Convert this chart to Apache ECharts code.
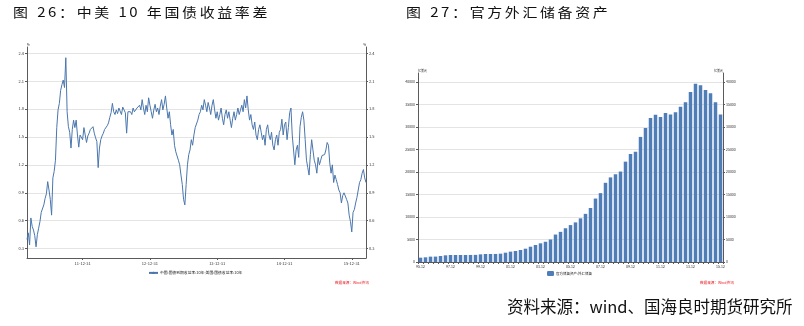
<!DOCTYPE html>
<html>
<head>
<meta charset="utf-8">
<script src="https://cdn.jsdelivr.net/npm/echarts@6/dist/echarts.min.js"></script>
<style>
  html, body { margin: 0; padding: 0; background: #fff; }
  #wrap { position: relative; width: 804px; height: 326px; overflow: hidden; }
  #chart { position: absolute; left: 0; top: 0; width: 804px; height: 326px; }
  .cap { position: absolute; font-family: "Noto Sans CJK SC", sans-serif; color: #1e1e1e; white-space: nowrap; }
  .title { font-size: 13px; letter-spacing: 2.3px; word-spacing: 0.5px; line-height: 13px; top: 5px;
           transform: scaleX(1.15); transform-origin: 0 0; color: #111; }
  .source { font-size: 16.5px; line-height: 17px; left: 507px; top: 298px; color: #111; }
</style>
</head>
<body>
<div id="wrap">
  <div id="chart"></div>
  <div class="cap title" style="left:13px">图 26：中美 10 年国债收益率差</div>
  <div class="cap title" style="left:406px">图 27：官方外汇储备资产</div>
  <div class="cap source">资料来源：wind、国海良时期货研究所</div>
</div>
<script>
// China 10Y minus US 10Y government bond yield, weekly from the first Friday of March 2011
const spreadStartDate = '2011-03-04';
const spreadValues = [
  0.40,0.47,0.34,0.63,0.54,0.50,0.44,0.32,0.45,0.52,
  0.59,0.69,0.68,0.77,0.84,0.89,1.02,0.93,0.83,0.66,
  1.06,1.13,1.25,1.60,1.79,1.86,2.00,2.06,2.11,2.03,
  2.35,1.77,1.61,1.55,1.38,1.58,1.68,1.60,1.68,1.52,
  1.39,1.52,1.54,1.47,1.60,1.58,1.44,1.51,1.54,1.58,
  1.60,1.61,1.54,1.49,1.45,1.17,1.38,1.47,1.51,1.54,
  1.58,1.60,1.62,1.65,1.71,1.76,1.86,1.77,1.74,1.79,
  1.75,1.81,1.82,1.74,1.82,1.79,1.76,1.54,1.77,1.79,
  1.77,1.74,1.81,1.77,1.79,1.81,1.82,1.84,1.79,1.90,
  1.81,1.74,1.84,1.77,1.92,1.84,1.77,1.70,1.79,1.85,
  1.77,1.81,1.74,1.83,1.90,1.79,1.85,1.94,1.81,1.70,
  1.77,1.63,1.52,1.58,1.41,1.34,1.36,1.25,1.20,1.09,
  0.99,0.83,0.77,0.99,1.20,1.31,1.36,1.47,1.41,1.52,
  1.60,1.58,1.68,1.74,1.77,1.84,1.79,1.90,1.84,1.77,
  1.87,1.81,1.74,1.84,1.90,1.79,1.70,1.77,1.68,1.74,
  1.81,1.70,1.63,1.74,1.79,1.70,1.77,1.68,1.60,1.70,
  1.77,1.68,1.74,1.81,1.74,1.79,1.84,1.77,1.90,1.81,
  1.94,1.79,1.68,1.74,1.63,1.58,1.66,1.52,1.47,1.58,
  1.63,1.55,1.47,1.52,1.41,1.58,1.63,1.52,1.47,1.55,
  1.41,1.36,1.47,1.52,1.41,1.55,1.58,1.69,1.52,1.63,
  1.66,1.47,1.60,1.76,1.81,1.52,1.36,1.20,1.36,1.41,
  1.28,1.61,1.71,1.77,1.68,1.47,1.25,1.17,1.09,1.31,
  1.47,1.36,1.25,1.20,1.11,1.28,1.20,1.25,1.30,1.29,
  1.31,1.36,1.44,1.41,1.22,1.11,1.20,1.01,1.09,1.04,
  0.99,0.93,0.90,0.79,0.87,0.90,0.88,0.83,0.79,0.66,
  0.59,0.48,0.69,0.72,0.79,0.85,0.93,1.01,1.04,1.11,
  1.15,1.06,1.01
];
const spreadTicks = [0.3, 0.6, 0.9, 1.2, 1.5, 1.8, 2.1, 2.4];
const spreadName = '中国:国债到期收益率:10年-美国:国债收益率:10年';

// Official FX reserves (100 million USD), one bar every four months from 1995-12
const reserveStart = { year: 1995, month: 12 };
const reserveValues = [
  960,1040,1190,1200,1330,1480,1560,1560,1560,1560,
  1570,1580,1700,1780,1780,1790,1850,2070,2300,2440,
  2670,2960,3400,3780,4150,4500,5000,6100,6700,7500,
  8200,8800,9700,10700,12000,14100,15300,17600,18800,19500,
  20100,22300,24000,24500,27800,29800,32000,32700,32200,33100,
  32800,33300,34500,35500,37800,39600,39300,38200,37500,35500,
  32800
];
const reserveTicks = [0, 5000, 10000, 15000, 20000, 25000, 30000, 35000, 40000];
const reserveName = '官方储备资产:外汇储备';
const dataSource = '数据来源：Wind资讯';

const pad = n => (n < 10 ? '0' : '') + n;

// weekly category labels
const spreadDates = [];
{
  const d = new Date(spreadStartDate + 'T00:00:00Z');
  for (let i = 0; i < spreadValues.length; i++) {
    spreadDates.push(d.getUTCFullYear() + '-' + pad(d.getUTCMonth() + 1) + '-' + pad(d.getUTCDate()));
    d.setUTCDate(d.getUTCDate() + 7);
  }
}
// the last week of each year carries the year-end label
const isYearEnd = (idx) => {
  const s = spreadDates[idx];
  const m = +s.slice(5, 7), day = +s.slice(8, 10);
  return m === 12 && day + 7 > 31;
};

const reserveDates = [];
{
  let y = reserveStart.year, m = reserveStart.month;
  for (let i = 0; i < reserveValues.length; i++) {
    reserveDates.push(pad(y % 100) + '-' + pad(m));
    m += 4;
    if (m > 12) { m -= 12; y += 1; }
  }
}

const axisColor = '#5a5a5a';
const gridColor = '#e4e4e4';
const labelColor = '#333';
const tinyFont = 'Noto Sans CJK SC';

function valueAxis(grid, side, min, max, ticks, fmt, fontSize, name, split) {
  return {
    type: 'value', gridIndex: grid, position: side, min: min, max: max,
    name: name, nameGap: 1,
    nameTextStyle: { fontSize: 3, color: '#222', align: side === 'left' ? 'left' : 'right', fontFamily: tinyFont },
    axisLine: { show: true, lineStyle: { color: axisColor, width: 1 } },
    axisTick: { show: true, length: 2, customValues: ticks, lineStyle: { color: axisColor } },
    axisLabel: { customValues: ticks, formatter: fmt, fontSize: fontSize, color: labelColor, margin: 3, fontFamily: tinyFont },
    splitLine: { show: split, lineStyle: { color: gridColor, width: 1 } }
  };
}

const chart = echarts.init(document.getElementById('chart'), null, { renderer: 'canvas' });
chart.setOption({
  animation: false,
  textStyle: { fontFamily: tinyFont },
  grid: [
    { left: 27, top: 47, width: 339, height: 211 },
    { left: 418, top: 73, width: 305, height: 189 }
  ],
  xAxis: [
    {
      type: 'category', gridIndex: 0, data: spreadDates, boundaryGap: false,
      axisLine: { lineStyle: { color: axisColor } },
      axisTick: { show: true, length: 2, interval: isYearEnd, lineStyle: { color: axisColor } },
      axisLabel: {
        interval: isYearEnd, fontSize: 4, color: labelColor, margin: 3,
        formatter: v => v.slice(2, 4) + '-12-31'
      },
      splitLine: { show: false }
    },
    {
      type: 'category', gridIndex: 1, data: reserveDates, boundaryGap: true,
      axisLine: { lineStyle: { color: axisColor } },
      axisTick: { show: true, length: 2, interval: 0, lineStyle: { color: axisColor } },
      axisLabel: { interval: 5, fontSize: 3.5, color: labelColor, margin: 3 },
      splitLine: { show: false }
    }
  ],
  yAxis: [
    valueAxis(0, 'left', 0.2, 2.465, spreadTicks, v => v.toFixed(1), 4, '%', true),
    valueAxis(0, 'right', 0.2, 2.465, spreadTicks, v => v.toFixed(1), 4, '%', false),
    valueAxis(1, 'left', 0, 42000, reserveTicks, v => String(v), 3.5, '亿美元', true),
    valueAxis(1, 'right', 0, 42000, reserveTicks, v => String(v), 3.5, '亿美元', false)
  ],
  legend: [
    {
      data: [spreadName], left: 148, top: 271, itemWidth: 9, itemHeight: 3, itemGap: 2,
      padding: 0, textStyle: { fontSize: 3.8, color: '#222', padding: [0, 0, 0, -3] }
    },
    {
      data: [reserveName], left: 547, top: 271, itemWidth: 7, itemHeight: 5, itemGap: 2,
      padding: 0, textStyle: { fontSize: 3.5, color: '#222', padding: [0, 0, 0, -3] }
    }
  ],
  graphic: [
    { type: 'text', left: 335, top: 281, style: { text: dataSource, fontSize: 3.6, fill: '#e8141b', fontFamily: tinyFont } },
    { type: 'text', left: 700, top: 281, style: { text: dataSource, fontSize: 3.6, fill: '#e8141b', fontFamily: tinyFont } }
  ],
  series: [
    {
      name: spreadName, type: 'line', xAxisIndex: 0, yAxisIndex: 0,
      data: spreadValues, symbol: 'none', smooth: false,
      lineStyle: { color: '#4a76ad', width: 1 }, itemStyle: { color: '#4a76ad' }
    },
    {
      name: reserveName, type: 'bar', xAxisIndex: 1, yAxisIndex: 2,
      data: reserveValues, barCategoryGap: '30%',
      itemStyle: { color: '#4f7db8' }
    }
  ]
});
</script>
</body>
</html>
